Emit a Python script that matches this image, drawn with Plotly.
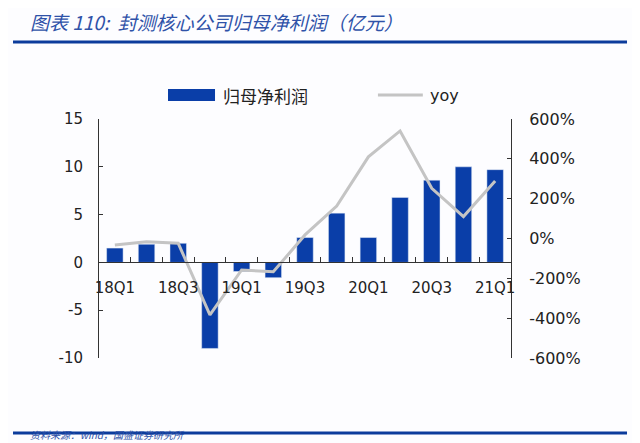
import plotly.graph_objects as go

# 季度
quarters = ['18Q1', '18Q2', '18Q3', '18Q4', '19Q1', '19Q2', '19Q3', '19Q4',
            '20Q1', '20Q2', '20Q3', '20Q4', '21Q1']
# 归母净利润（亿元）
profit = [1.5, 1.9, 2.0, -9.0, -0.95, -1.6, 2.6, 5.15, 2.6, 6.8, 8.6, 10.0, 9.7]
# yoy (%)
yoy = [-33, -16, -24, -384, -158, -167, 18, 163, 410, 540, 252, 110, 289]

left_ticks = [-10, -5, 0, 5, 10, 15]
left_text = ['-10', '-5', '0', '5', '10', '15']
right_ticks = [-600, -400, -200, 0, 200, 400, 600]
right_text = ['-600%', '-400%', '-200%', '0%', '200%', '400%', '600%']

BLUE = '#0a3ea8'
GRAY = '#c4c4c4'
AXIS = '#333333'
TXT = '#222222'
FONT = 'DejaVu Sans'
CJK = 'Noto Sans CJK SC'

# x 用序号画，标签隔一个显示
xs = list(range(len(quarters)))

fig = go.Figure()
fig.add_trace(go.Bar(x=xs, y=profit, name='归母净利润', marker_color=BLUE,
                     width=0.52, yaxis='y'))
fig.add_trace(go.Scatter(x=xs, y=yoy, name='yoy', mode='lines',
                         line=dict(color=GRAY, width=3), yaxis='y2'))

# 页面 body 有 8px 边距，边距里扣掉
fig.update_layout(
    width=640, height=443,
    margin=dict(l=91, r=137, t=111, b=93, autoexpand=False),
    paper_bgcolor='#fdfdff', plot_bgcolor='#fdfdff',
    showlegend=False,
    font=dict(family=FONT, size=15, color=TXT),
    xaxis=dict(range=[-0.5, len(quarters) - 0.5], anchor='free', position=0.4,
               showgrid=False, zeroline=False,
               showline=True, linecolor=AXIS, linewidth=1,
               tickvals=xs[::2], ticktext=quarters[::2], ticks='',
               ticklabelstandoff=12,
               minor=dict(tickvals=[i + 0.5 for i in xs[:-1]], ticks='inside',
                          ticklen=5, tickcolor=AXIS, showgrid=False)),
    yaxis=dict(range=[-10, 15], tickvals=left_ticks, ticktext=left_text,
               showgrid=False, zeroline=False, showline=True, linecolor=AXIS,
               ticks='inside', ticklen=4, tickcolor=AXIS, ticklabelstandoff=12),
    yaxis2=dict(range=[-600, 600], tickvals=right_ticks, ticktext=right_text,
                overlaying='y', side='right', anchor='x',
                showgrid=False, zeroline=False, showline=True, linecolor=AXIS,
                ticks='inside', ticklen=4, tickcolor=AXIS, ticklabelstandoff=14,
                tickfont=dict(size=16)),
)

# 标题、分隔线、来源
fig.add_shape(type='line', xref='paper', yref='paper', x0=-0.2087, x1=1.2816,
              y0=1.322, y1=1.322, line=dict(color='#0c3c9c', width=3))
fig.add_shape(type='line', xref='paper', yref='paper', x0=-0.2087, x1=1.2816,
              y0=-0.314, y1=-0.314, line=dict(color='#0c3c9c', width=3))
fig.add_annotation(xref='paper', yref='paper', x=-0.1723, y=1.41,
                   xanchor='left', yanchor='middle', showarrow=False,
                   text='<i>图表 110:  封测核心公司归母净利润（亿元）</i>',
                   font=dict(family=CJK, size=19, color='#2f52a8'))
fig.add_annotation(xref='paper', yref='paper', x=-0.17, y=-0.355,
                   xanchor='left', yanchor='bottom', showarrow=False,
                   borderpad=0,
                   text='<i>资料来源：wind，国盛证券研究所</i>',
                   font=dict(family=CJK, size=10, color='#2f52a8'))

# 图例
fig.add_shape(type='rect', xref='paper', yref='paper', x0=0.1675, x1=0.2816,
              y0=1.075, y1=1.1255, fillcolor=BLUE, line=dict(width=0))
fig.add_annotation(xref='paper', yref='paper', x=0.296, y=1.1004,
                   xanchor='left', yanchor='middle', showarrow=False,
                   text='归母净利润', font=dict(family=CJK, size=17, color=TXT))
fig.add_shape(type='line', xref='paper', yref='paper', x0=0.677, x1=0.786,
              y0=1.1004, y1=1.1004, line=dict(color=GRAY, width=3))
fig.add_annotation(xref='paper', yref='paper', x=0.7985, y=1.1004,
                   xanchor='left', yanchor='middle', showarrow=False,
                   text='yoy', font=dict(family=FONT, size=16, color=TXT))

fig.write_html('out.html')
